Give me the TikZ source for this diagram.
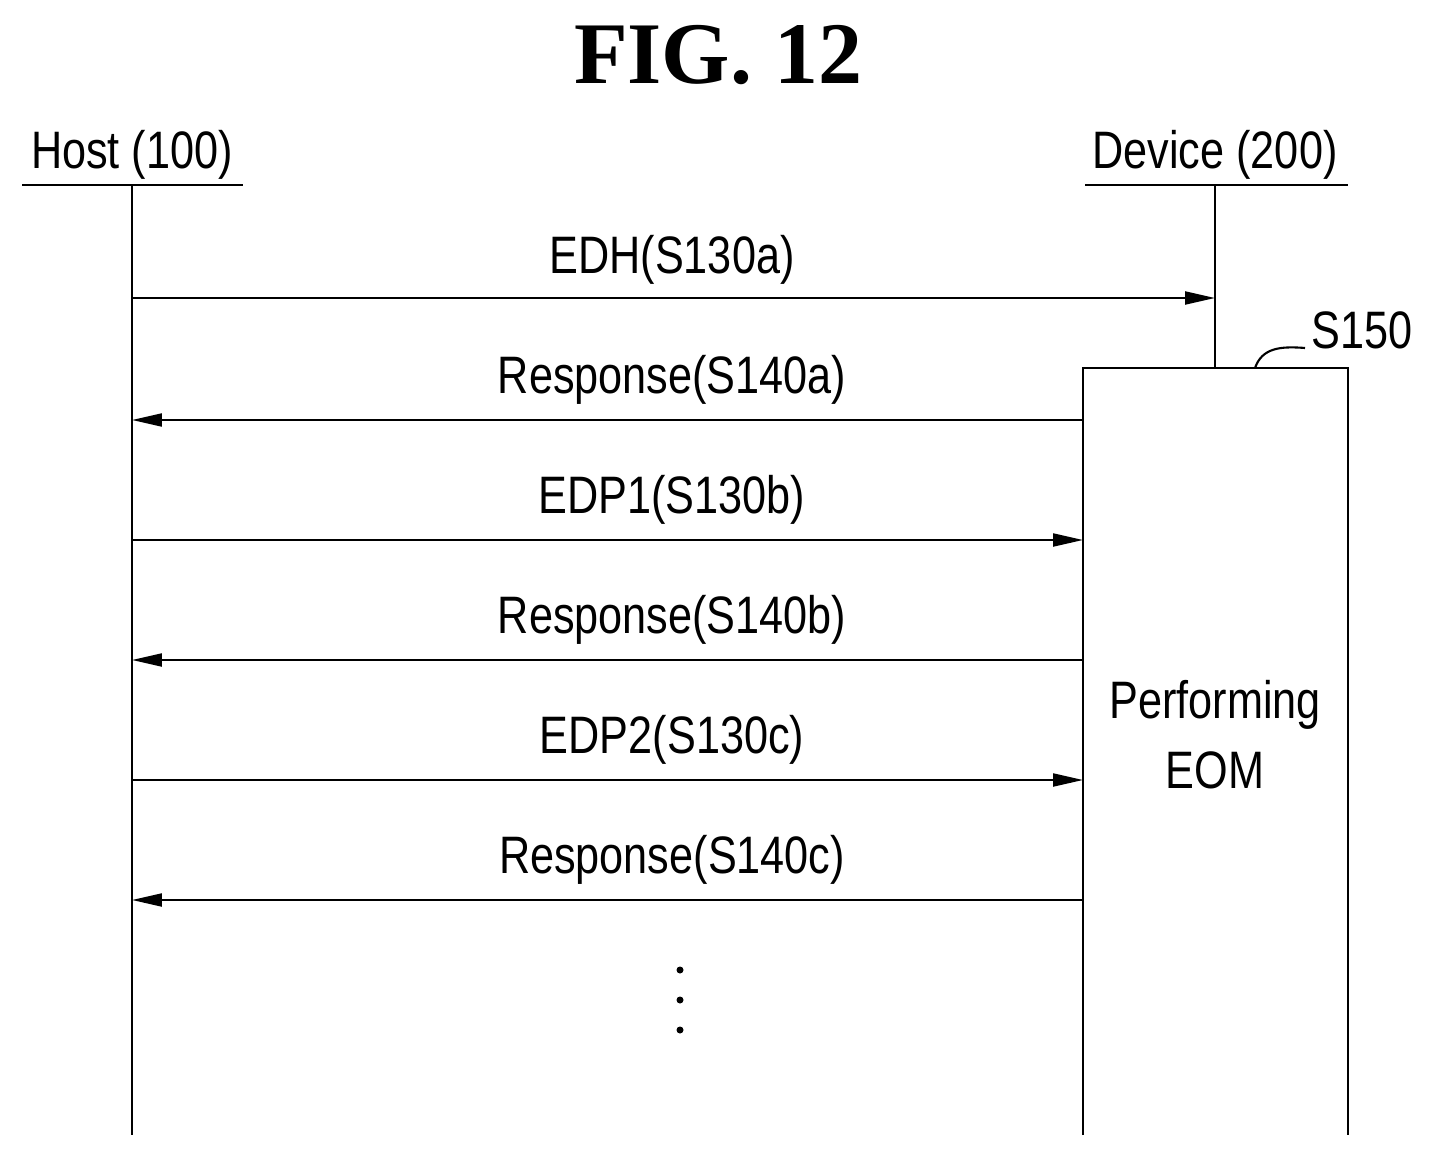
\documentclass[tikz,border=0pt]{standalone}
\usepackage{fontspec}
\setmainfont{Liberation Serif}
\newfontfamily\lab[FakeStretch=0.82]{Liberation Sans}
\usetikzlibrary{arrows.meta}
\tikzset{
  msg/.style={line width=1.2pt, -{Triangle[length=0.6cm,width=0.26cm]}},
  lbl/.style={font=\lab\fontsize{30}{34}\selectfont, inner sep=0pt},
  life/.style={line width=1.2pt}
}
\begin{document}
\begin{tikzpicture}[x=0.02cm,y=-0.02cm]
\useasboundingbox (0,0) rectangle (1433,1155);
\node[font=\bfseries\fontsize{50}{56}\selectfont] (title) at (718,55) {FIG. 12};

% lifelines
\node[lbl] (host) at (132,155) {Host (100)};
\node[lbl] (dev) at (1215,155) {Device (200)};
\coordinate (hTop) at (132,185);
\coordinate (hBot) at (132,1135);
\coordinate (dTop) at (1215,185);
\coordinate (dBot) at (1215,368);
\draw[life] (22,185) -- (243,185);
\draw[life] (1085,185) -- (1348,185);
\draw[life] (hTop) -- (hBot);
\draw[life] (dTop) -- (dBot);

% EOM box
\coordinate (bl) at (1083,1135);
\coordinate (tl) at (1083,368);
\coordinate (tr) at (1348,368);
\coordinate (br) at (1348,1135);
\draw[life] (bl) -- (tl) -- (tr) -- (br);
\node[lbl, align=center] (eom) at (1215,735) {Performing\\[6pt]EOM};
\node[lbl] (s150) at (1362,330) {S150};
\draw[life] (1255,368) .. controls (1262,348) and (1280,346) .. (1305,348);

% messages
\coordinate (h1) at (132,298);  \coordinate (d1) at (1215,298);
\coordinate (h2) at (132,420);  \coordinate (d2) at (1083,420);
\coordinate (h3) at (132,540);  \coordinate (d3) at (1083,540);
\coordinate (h4) at (132,660);  \coordinate (d4) at (1083,660);
\coordinate (h5) at (132,780);  \coordinate (d5) at (1083,780);
\coordinate (h6) at (132,900);  \coordinate (d6) at (1083,900);
\draw[msg] (h1) -- (d1);
\draw[msg] (d2) -- (h2);
\draw[msg] (h3) -- (d3);
\draw[msg] (d4) -- (h4);
\draw[msg] (h5) -- (d5);
\draw[msg] (d6) -- (h6);
\node[lbl] (m1) at (672,260) {EDH(S130a)};
\node[lbl] (m2) at (672,380) {Response(S140a)};
\node[lbl] (m3) at (672,500) {EDP1(S130b)};
\node[lbl] (m4) at (672,620) {Response(S140b)};
\node[lbl] (m5) at (672,740) {EDP2(S130c)};
\node[lbl] (m6) at (672,860) {Response(S140c)};

% dots
\foreach \y in {970,1000,1030}
  \fill (680,\y) circle (3.5);
\end{tikzpicture}
\end{document}
